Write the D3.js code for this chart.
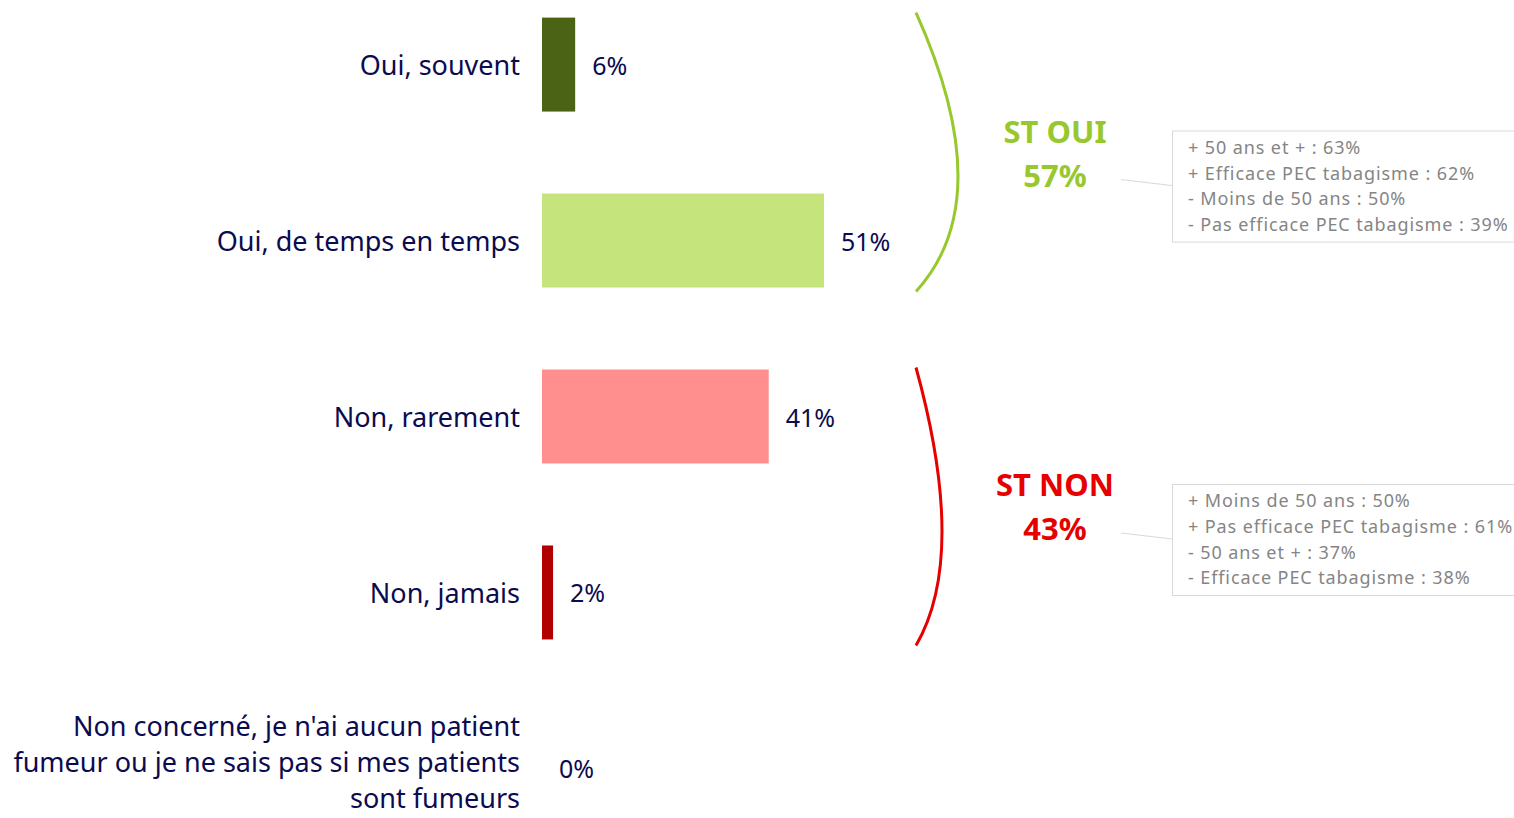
<!DOCTYPE html>
<html>
<head>
<meta charset="utf-8">
<script src="https://cdn.jsdelivr.net/npm/d3@7"></script>
<style>
  html, body { margin: 0; padding: 0; background: #fff; }
  svg { display: block; font-family: "Noto Sans", sans-serif; }
</style>
</head>
<body>
<svg id="chart" width="1514" height="818"></svg>
<script>
const categories = [
  "Oui, souvent",
  "Oui, de temps en temps",
  "Non, rarement",
  "Non, jamais",
  "Non concerné, je n'ai aucun patient|fumeur ou je ne sais pas si mes patients|sont fumeurs"
];
const values = [6, 51, 41, 2, 0];
const barColors = ["#4b6314", "#c5e57c", "#ff8f8f", "#b00000", "#999999"];

const groupLabels = ["ST OUI", "ST NON"];
const groupValues = [57, 43];
const groupColors = ["#97c82e", "#e60000"];
const groupSpans = [[0, 1], [2, 3]];

const notesOui = [
  "+ 50 ans et + : 63%",
  "+ Efficace PEC tabagisme : 62%",
  "- Moins de 50 ans : 50%",
  "- Pas efficace PEC tabagisme : 39%"
];
const notesNon = [
  "+ Moins de 50 ans : 50%",
  "+ Pas efficace PEC tabagisme : 61%",
  "- 50 ans et + : 37%",
  "- Efficace PEC tabagisme : 38%"
];
const notes = [notesOui, notesNon];

const svg = d3.select("#chart");
const navy = "#0b0b4f";

const x = d3.scaleLinear().domain([0, 100]).range([542, 1095]);
const y = d3.scaleBand().domain(d3.range(categories.length)).range([0, 833])
  .paddingInner(0.466).paddingOuter(0.1);

// bars
svg.selectAll("rect.bar").data(values).join("rect")
  .attr("class", "bar")
  .attr("x", x(0))
  .attr("y", (d, i) => y(i))
  .attr("width", d => x(d) - x(0))
  .attr("height", y.bandwidth())
  .attr("fill", (d, i) => barColors[i]);

// value labels
svg.selectAll("text.val").data(values).join("text")
  .attr("class", "val")
  .attr("x", d => x(d) + 17)
  .attr("y", (d, i) => y(i) + y.bandwidth() / 2)
  .attr("dominant-baseline", "central")
  .attr("font-size", 25)
  .attr("fill", navy)
  .text(d => d + "%");

// category labels
const catG = svg.selectAll("text.cat").data(categories).join("text")
  .attr("class", "cat")
  .attr("text-anchor", "end")
  .attr("font-size", 27)
  .attr("fill", navy);
catG.each(function (d, i) {
  const lines = d.split("|");
  const cy = y(i) + y.bandwidth() / 2;
  const lh = 36;
  const shift = lines.length > 1 ? -7 : 0;
  d3.select(this).selectAll("tspan").data(lines).join("tspan")
    .attr("x", 520)
    .attr("y", (l, j) => cy + shift + (j - (lines.length - 1) / 2) * lh)
    .attr("dominant-baseline", "central")
    .text(l => l);
});

// braces, group totals and notes
groupSpans.forEach((span, gi) => {
  const top = y(span[0]) + (gi === 0 ? -5 : -2);
  const bot = y(span[1]) + y.bandwidth() + (gi === 0 ? 4 : 6);
  const bx = 916;
  const bulge = gi === 0 ? 84 : 52;
  const cyc = gi === 0 ? top + (bot - top) * 0.67 : top + (bot - top) * 0.68;
  const p = d3.path();
  p.moveTo(bx, top);
  p.quadraticCurveTo(bx + bulge, cyc, bx, bot);
  svg.append("path").attr("d", p.toString())
    .attr("fill", "none").attr("stroke", groupColors[gi]).attr("stroke-width", 3);

  const mid = (top + bot) / 2 + (gi === 0 ? 2.5 : 1.5);
  svg.append("text")
    .attr("x", 1055).attr("y", mid - 24)
    .attr("text-anchor", "middle").attr("dominant-baseline", "central")
    .attr("font-size", 31).attr("font-weight", "bold")
    .attr("fill", groupColors[gi])
    .text(groupLabels[gi]);
  svg.append("text")
    .attr("x", 1055).attr("y", mid + 20)
    .attr("text-anchor", "middle").attr("dominant-baseline", "central")
    .attr("font-size", 31).attr("font-weight", "bold")
    .attr("fill", groupColors[gi])
    .text(groupValues[gi] + "%");

  // connector
  svg.append("line")
    .attr("x1", 1121).attr("y1", mid + 25)
    .attr("x2", 1172).attr("y2", mid + 31)
    .attr("stroke", "#d9d9d9").attr("stroke-width", 1);

  const boxTop = mid - 24;
  svg.append("rect")
    .attr("x", 1172.5).attr("y", boxTop + 0.5)
    .attr("width", 360).attr("height", 111)
    .attr("fill", "#fff").attr("stroke", "#d9d9d9").attr("stroke-width", 1);

  svg.selectAll(null).data(notes[gi]).join("text")
    .attr("x", 1188)
    .attr("y", (d, j) => boxTop + 16.5 + j * 25.6)
    .attr("dominant-baseline", "central")
    .attr("font-size", 18)
    .attr("letter-spacing", 0.9)
    .attr("fill", "#858585")
    .text(d => d);
});
</script>
</body>
</html>
